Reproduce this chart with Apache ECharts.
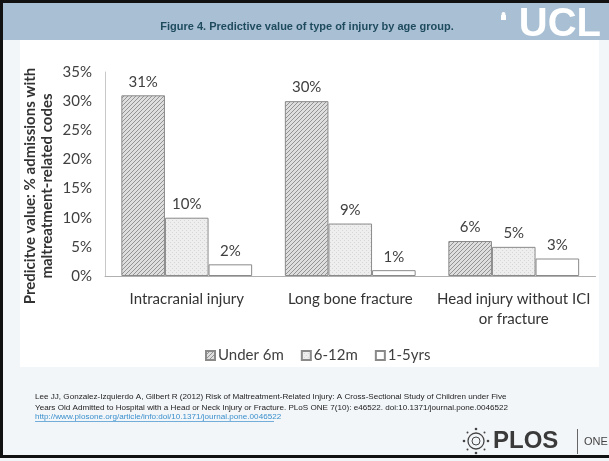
<!DOCTYPE html>
<html>
<head>
<meta charset="utf-8">
<script src="https://cdn.jsdelivr.net/npm/echarts@6/dist/echarts.min.js"></script>
<style>
  html, body { margin: 0; padding: 0; background: #fff; }
  #chart { width: 609px; height: 461px; }
</style>
</head>
<body>
<div id="chart"></div>
<script>
// data
const categories = ['Intracranial injury', 'Long bone fracture', 'Head injury without ICI\nor fracture'];
const seriesNames = ['Under 6m', '6-12m', '1-5yrs'];
const under6m = [31, 30, 6];
const m6to12 = [10, 9, 5];
const y1to5 = [2, 1, 3];
const yTicks = [0, 5, 10, 15, 20, 25, 30, 35];

const FONT = 'Lato';
const SANS = '"Liberation Sans", Arial, sans-serif';

// small tile patterns for the bar fills
function hatchTile () {
  const c = document.createElement('canvas');
  c.width = 4; c.height = 4;
  const g = c.getContext('2d');
  g.fillStyle = '#dedede';
  g.fillRect(0, 0, 4, 4);
  g.strokeStyle = '#939393';
  g.lineWidth = 1;
  g.beginPath();
  g.moveTo(-1, 5); g.lineTo(5, -1);
  g.moveTo(-1, 1); g.lineTo(1, -1);
  g.moveTo(3, 5); g.lineTo(5, 3);
  g.stroke();
  return c;
}
function dotTile () {
  const c = document.createElement('canvas');
  c.width = 4; c.height = 4;
  const g = c.getContext('2d');
  g.fillStyle = '#eeeeee';
  g.fillRect(0, 0, 4, 4);
  g.fillStyle = '#d6d6d6';
  g.fillRect(0, 0, 1, 1);
  g.fillRect(2, 2, 1, 1);
  return c;
}

const fills = [
  { image: hatchTile(), repeat: 'repeat' },
  { image: dotTile(), repeat: 'repeat' },
  '#ffffff'
];
const values = [under6m, m6to12, y1to5];

const chart = echarts.init(document.getElementById('chart'));

const option = {
  backgroundColor: '#f3f6f9',
  animation: false,
  textStyle: { fontFamily: FONT },
  grid: { left: 105, right: 13.5, top: 72, bottom: 185 },
  legend: {
    data: seriesNames,
    top: 343,
    left: 200,
    itemWidth: 9,
    itemHeight: 9,
    itemGap: 17,
    icon: 'rect',
    textStyle: { fontFamily: FONT, fontSize: 15, color: '#404040', padding: [0, 0, 0, -2] }
  },
  xAxis: {
    type: 'category',
    data: categories,
    axisLine: { lineStyle: { color: '#b0b0b0', width: 1 } },
    axisTick: { show: false },
    axisLabel: {
      margin: 13,
      fontSize: 15,
      lineHeight: 20,
      color: '#333',
      fontFamily: FONT,
      interval: 0
    }
  },
  yAxis: {
    type: 'value',
    min: 0,
    max: 35,
    interval: 5,
    axisLine: { show: true, lineStyle: { color: '#c8c8c8' } },
    axisTick: { show: false },
    splitLine: { show: false },
    axisLabel: {
      margin: 13,
      fontSize: 15,
      color: '#404040',
      fontFamily: FONT,
      formatter: function (v) { return yTicks.indexOf(v) >= 0 ? v + '%' : ''; }
    }
  },
  series: seriesNames.map(function (name, i) {
    return {
      name: name,
      type: 'bar',
      data: values[i],
      barGap: '0%',
      barCategoryGap: '20%',
      itemStyle: { color: fills[i], borderColor: '#8a8a8a', borderWidth: 1 },
      label: {
        show: true,
        position: 'top',
        distance: 6,
        fontSize: 15,
        color: '#404040',
        fontFamily: FONT,
        formatter: function (p) { return p.value + '%'; }
      }
    };
  }),
  graphic: [
    // slide frame and header band
    { type: 'rect', z: -10, shape: { x: 0, y: 0, width: 609, height: 461 }, style: { fill: '#f3f6f9' } },
    { type: 'rect', z: -9, shape: { x: 0, y: 0, width: 609, height: 3 }, style: { fill: '#111' } },
    { type: 'rect', z: -9, shape: { x: 0, y: 0, width: 3, height: 458 }, style: { fill: '#111' } },
    { type: 'rect', z: -9, shape: { x: 0, y: 455, width: 609, height: 3 }, style: { fill: '#111' } },
    { type: 'rect', z: -9, shape: { x: 3, y: 3, width: 606, height: 37 }, style: { fill: '#a9bfd3' } },
    { type: 'rect', z: -9, shape: { x: 20, y: 40, width: 579, height: 327 }, style: { fill: '#ffffff' } },
    {
      type: 'text', z: 5, x: 307, y: 27,
      style: {
        text: 'Figure 4. Predictive value of type of injury by age group.',
        font: 'bold 11px ' + SANS, fill: '#1f4b5f', textAlign: 'center', textVerticalAlign: 'middle'
      }
    },
    // UCL mark
    {
      type: 'text', z: 5, x: 601, y: 25,
      style: { text: 'UCL', font: 'bold 40px ' + SANS, fill: '#ffffff', textAlign: 'right', textVerticalAlign: 'middle' }
    },
    { type: 'rect', z: 5, shape: { x: 501, y: 15, width: 5, height: 5 }, style: { fill: '#ffffff' } },
    { type: 'circle', z: 5, shape: { cx: 503.5, cy: 14, r: 2 }, style: { fill: '#ffffff' } },
    // y axis title
    {
      type: 'text', z: 5, x: 39, y: 186, rotation: Math.PI / 2,
      style: {
        text: 'Predicitve value: % admissions with\nmaltreatment-related codes',
        font: 'bold 15px ' + FONT, fill: '#333', textAlign: 'center', textVerticalAlign: 'middle', lineHeight: 17
      }
    },
    // citation
    {
      type: 'text', z: 5, x: 35, y: 397,
      style: {
        text: 'Lee JJ, Gonzalez-Izquierdo A, Gilbert R (2012) Risk of Maltreatment-Related Injury: A Cross-Sectional Study of Children under Five',
        font: '8.1px ' + SANS, fill: '#222', textVerticalAlign: 'middle'
      }
    },
    {
      type: 'text', z: 5, x: 35, y: 408,
      style: {
        text: 'Years Old Admitted to Hospital with a Head or Neck Injury or Fracture. PLoS ONE 7(10): e46522. doi:10.1371/journal.pone.0046522',
        font: '8.1px ' + SANS, fill: '#222', textVerticalAlign: 'middle'
      }
    },
    {
      type: 'text', z: 5, x: 35, y: 417,
      style: {
        text: 'http://www.plosone.org/article/info:doi/10.1371/journal.pone.0046522',
        font: '8.1px ' + SANS, fill: '#3a8fcc', textVerticalAlign: 'middle'
      }
    },
    { type: 'line', z: 5, shape: { x1: 35, y1: 421.5, x2: 274, y2: 421.5 }, style: { stroke: '#3a8fcc', lineWidth: 0.7 } },
    // PLOS ONE mark
    { type: 'circle', z: 5, shape: { cx: 476, cy: 441, r: 8 }, style: { fill: 'none', stroke: '#444', lineWidth: 1.3 } },
    { type: 'circle', z: 5, shape: { cx: 476, cy: 441, r: 4 }, style: { fill: 'none', stroke: '#444', lineWidth: 1 } },
    { type: 'circle', z: 5, shape: { cx: 476, cy: 429, r: 1.3 }, style: { fill: '#444' } },
    { type: 'circle', z: 5, shape: { cx: 476, cy: 453, r: 1.3 }, style: { fill: '#444' } },
    { type: 'circle', z: 5, shape: { cx: 464, cy: 441, r: 1.3 }, style: { fill: '#444' } },
    { type: 'circle', z: 5, shape: { cx: 488, cy: 441, r: 1.3 }, style: { fill: '#444' } },
    { type: 'circle', z: 5, shape: { cx: 467.5, cy: 432.5, r: 1 }, style: { fill: '#444' } },
    { type: 'circle', z: 5, shape: { cx: 484.5, cy: 432.5, r: 1 }, style: { fill: '#444' } },
    { type: 'circle', z: 5, shape: { cx: 467.5, cy: 449.5, r: 1 }, style: { fill: '#444' } },
    { type: 'circle', z: 5, shape: { cx: 484.5, cy: 449.5, r: 1 }, style: { fill: '#444' } },
    {
      type: 'text', z: 5, x: 493, y: 441,
      style: { text: 'PLOS', font: 'bold 24px ' + SANS, fill: '#3a3a3a', textVerticalAlign: 'middle' }
    },
    { type: 'line', z: 5, shape: { x1: 577.5, y1: 429, x2: 577.5, y2: 454 }, style: { stroke: '#666', lineWidth: 1 } },
    {
      type: 'text', z: 5, x: 584, y: 442,
      style: { text: 'ONE', font: '11px ' + SANS, fill: '#444', textVerticalAlign: 'middle' }
    }
  ]
};

chart.setOption(option);
</script>
</body>
</html>
